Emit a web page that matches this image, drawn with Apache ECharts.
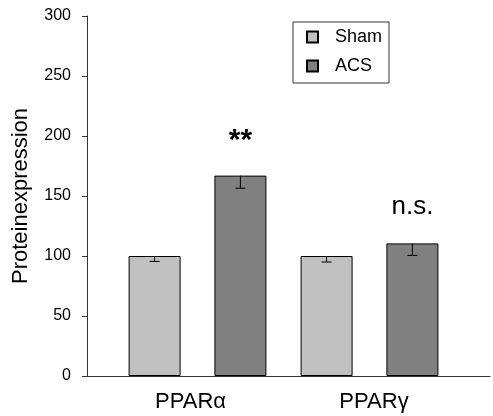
<!DOCTYPE html>
<html>
<head>
<meta charset="utf-8">
<script src="https://cdn.jsdelivr.net/npm/echarts@6/dist/echarts.min.js"></script>
<style>
html,body{margin:0;padding:0;background:#fff;}
#chart{width:493px;height:416px;}
</style>
</head>
<body>
<div id="chart"></div>
<script>
const categories = ['PPARα', 'PPARγ'];
const seriesNames = ['Sham', 'ACS'];
const shamValues = [100, 100];
const acsValues = [167, 110.5];
const shamErrors = [4.5, 5];
const acsErrors = [10.5, 10];
const acsNotes = ['**', 'n.s.'];
const yMin = 0, yMax = 300, yInterval = 50;

const FONT = '"Liberation Sans", Arial, sans-serif';
const BAR_W = 52;
const GAP_RATIO = 0.65;
const OFFSET = BAR_W * (1 + GAP_RATIO) / 2;

const chart = echarts.init(document.getElementById('chart'), null, {renderer: 'canvas'});

function errRender(sign) {
  return function (params, api) {
    const ci = api.value(0), v = api.value(1), e = api.value(2);
    const top = api.coord([ci, v]);
    const bot = api.coord([ci, v - e]);
    const x = top[0] + sign * OFFSET;
    const st = {stroke: '#000', lineWidth: 1};
    return {
      type: 'group',
      children: [
        {type: 'line', shape: {x1: x, y1: top[1], x2: x, y2: bot[1]}, style: st},
        {type: 'line', shape: {x1: x - 5, y1: bot[1], x2: x + 5, y2: bot[1]}, style: st}
      ]
    };
  };
}

const option = {
  backgroundColor: '#fff',
  animation: false,
  textStyle: {fontFamily: FONT},
  legend: {
    data: seriesNames,
    orient: 'vertical',
    left: 293, top: 22,
    icon: 'rect',
    itemWidth: 11, itemHeight: 11,
    itemGap: 9,
    padding: [5, 7, 7, 13],
    borderColor: '#333', borderWidth: 1,
    textStyle: {fontSize: 18, color: '#000', fontFamily: FONT, padding: [0, 0, 0, 12], lineHeight: 20}
  },
  grid: [
    {left: 87, right: 3, top: 16, bottom: 40},
    {left: 111.5, right: 37.5, top: 16, bottom: 40}
  ],
  xAxis: [
    {gridIndex: 0, type: 'category', data: categories, axisLine: {lineStyle: {color: '#333'}}, axisTick: {show: false}, axisLabel: {show: false}},
    {gridIndex: 1, type: 'category', data: categories, axisLine: {show: false}, axisTick: {show: false},
     axisLabel: {
       margin: 15, color: '#000', fontSize: 22, fontFamily: FONT,
       formatter: function (v, i) { return '{c' + i + '|' + v + '}'; },
       rich: {
         c0: {fontSize: 22, color: '#000', fontFamily: FONT, padding: [0, 14, 0, 0]},
         c1: {fontSize: 22, color: '#000', fontFamily: FONT, padding: [0, 0, 0, 9]}
       }
     }}
  ],
  yAxis: [
    {gridIndex: 0, type: 'value', min: yMin, max: yMax, interval: yInterval,
     name: 'Proteinexpression', nameLocation: 'middle', nameGap: 55,
     nameTextStyle: {fontSize: 22, color: '#000', fontFamily: FONT},
     axisLine: {show: true, lineStyle: {color: '#333'}},
     axisTick: {show: true, length: 5, lineStyle: {color: '#333'}},
     axisLabel: {fontSize: 16, color: '#000', margin: 16, fontFamily: FONT},
     splitLine: {show: false}},
    {gridIndex: 1, type: 'value', min: yMin, max: yMax, interval: yInterval, show: false, splitLine: {show: false}}
  ],
  series: [
    {name: seriesNames[0], type: 'bar', xAxisIndex: 1, yAxisIndex: 1, data: shamValues,
     barWidth: BAR_W, barGap: (GAP_RATIO * 100) + '%',
     itemStyle: {color: '#c0c0c0', borderColor: '#000', borderWidth: 1}},
    {name: seriesNames[1], type: 'bar', xAxisIndex: 1, yAxisIndex: 1,
     data: acsValues.map(function (v, i) { return {value: v}; }),
     barWidth: BAR_W, barGap: (GAP_RATIO * 100) + '%',
     itemStyle: {color: '#808080', borderColor: '#000', borderWidth: 1},
     label: {
       show: true, position: 'top', distance: 20,
       formatter: function (p) {
         const n = acsNotes[p.dataIndex];
         return n === '**' ? '{star|' + n + '}' : '{ns|' + n + '}';
       },
       rich: {
         star: {fontSize: 30, fontWeight: 'bold', color: '#000', fontFamily: FONT},
         ns: {fontSize: 26, color: '#000', fontFamily: FONT, padding: [0, 0, 4, 0]}
       }
     }},
    {type: 'custom', xAxisIndex: 1, yAxisIndex: 1, z: 10, renderItem: errRender(-1),
     encode: {x: 0, y: 1},
     data: shamValues.map(function (v, i) { return [i, v, shamErrors[i]]; })},
    {type: 'custom', xAxisIndex: 1, yAxisIndex: 1, z: 10, renderItem: errRender(1),
     encode: {x: 0, y: 1},
     data: acsValues.map(function (v, i) { return [i, v, acsErrors[i]]; })}
  ]
};
chart.setOption(option);
</script>
</body>
</html>
